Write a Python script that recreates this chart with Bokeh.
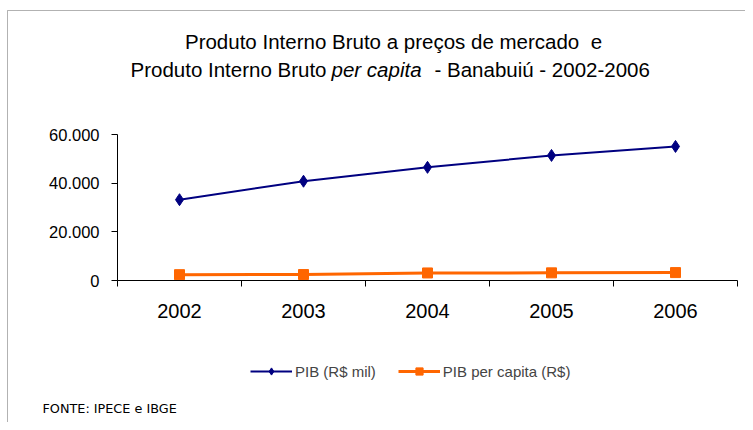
from bokeh.plotting import figure
from bokeh.models import Range1d, FixedTicker, Legend, LegendItem, Label, BoxAnnotation
from bokeh.embed import file_html
from bokeh.resources import INLINE

years = ["2002", "2003", "2004", "2005", "2006"]
pib = [33200, 40800, 46500, 51400, 55100]
pib_per_capita = [2400, 2450, 3100, 3150, 3250]
y_ticks = [0, 20000, 40000, 60000]
y_tick_labels = ["0", "20.000", "40.000", "60.000"]

title_line1 = "Produto Interno Bruto a preços de mercado\u00a0 e"
title_line2 = ["Produto Interno Bruto", "per capita", "- Banabuiú - 2002-2006"]
source_text = "FONTE: IPECE e IBGE"
series_names = ["PIB (R$ mil)", "PIB per capita (R$)"]

FONT = "Liberation Sans"
n = len(years)
xs = [i + 0.5 for i in range(n)]
y_max = y_ticks[-1]

# canvas geometry (pixels); the whole canvas is the plotting frame
W, H = 745, 422
AX_L, AX_R = 117, 737      # x of category boundaries 0 and n (canvas px)
AX_TOP, AX_BOT = 134, 280  # y of y_max and 0 (canvas px, from top)
px_x = (AX_R - AX_L) / n
px_y = (AX_BOT - AX_TOP) / y_max
x_range = Range1d(-AX_L / px_x, n + (W - AX_R) / px_x)
y_range = Range1d(-(H - AX_BOT) / px_y, y_max + AX_TOP / px_y)

p = figure(width=W, height=H, output_backend="svg", toolbar_location=None,
           x_range=x_range, y_range=y_range,
           min_border=0, min_border_left=0, min_border_right=0,
           min_border_top=0, min_border_bottom=0)
p.outline_line_color = None
p.grid.visible = False
p.background_fill_color = "white"
p.border_fill_color = "white"

# outer chart border (left and top edges visible)
p.add_layout(BoxAnnotation(left=7, right=W + 20, top=H - 10, bottom=-20,
                           left_units="screen", right_units="screen",
                           top_units="screen", bottom_units="screen",
                           fill_alpha=0, line_color="#000000", line_width=1))

# x axis: labels at category centers, ticks between categories
xa = p.xaxis[0]
xa.fixed_location = 0
xa.bounds = (0, n)
xa.ticker = FixedTicker(ticks=xs, minor_ticks=list(range(n + 1)))
xa.major_label_overrides = {x: y for x, y in zip(xs, years)}
xa.major_tick_out = 0
xa.major_tick_in = 0
xa.minor_tick_out = 6
xa.minor_tick_in = 0
xa.minor_tick_line_color = "#000000"
xa.axis_line_color = "#000000"
xa.major_label_text_font = FONT
xa.major_label_text_font_size = "20px"
xa.major_label_text_color = "#000000"
xa.major_label_standoff = 17

ya = p.yaxis[0]
ya.fixed_location = 0
ya.bounds = (0, y_max)
ya.ticker = FixedTicker(ticks=y_ticks)
ya.major_label_overrides = {t: l for t, l in zip(y_ticks, y_tick_labels)}
ya.major_tick_out = 6
ya.major_tick_in = 0
ya.minor_tick_line_color = None
ya.axis_line_color = "#000000"
ya.major_tick_line_color = "#000000"
ya.major_label_text_font = FONT
ya.major_label_text_font_size = "16.5px"
ya.major_label_text_color = "#000000"
ya.major_label_standoff = 12

l1 = p.line(xs, pib, line_color="#000080", line_width=2)
m1 = p.scatter(xs, pib, marker="diamond", size=12,
               fill_color="#000080", line_color="#000080")
l2 = p.line(xs, pib_per_capita, line_color="#FF6600", line_width=3)
m2 = p.scatter(xs, pib_per_capita, marker="square", size=10,
               fill_color="#FF6600", line_color="#FF6600")

legend = Legend(items=[LegendItem(label=series_names[0], renderers=[l1, m1]),
                       LegendItem(label=series_names[1], renderers=[l2, m2])],
                orientation="horizontal", location=(250, 42),
                border_line_color=None, background_fill_alpha=0,
                label_text_font=FONT, label_text_font_size="15px",
                glyph_width=42, glyph_height=18, label_standoff=3,
                spacing=22, padding=0, margin=0)
p.add_layout(legend, "center")

common = dict(x_units="screen", y_units="screen", text_font=FONT,
              text_color="#000000", text_baseline="alphabetic",
              text_font_size="20.5px")
p.add_layout(Label(x=393, y=381, text=title_line1, text_align="center", **common))
p.add_layout(Label(x=326, y=353, text=title_line2[0], text_align="right", **common))
p.add_layout(Label(x=331, y=353, text=title_line2[1], text_align="left",
                   text_font_style="italic", **common))
p.add_layout(Label(x=434, y=353, text=title_line2[2], text_align="left", **common))
p.add_layout(Label(x=42, y=14, text=source_text, text_align="left",
                   text_font_size="12.8px", x_units="screen", y_units="screen",
                   text_font="DejaVu Sans", text_color="#000000",
                   text_baseline="alphabetic"))

open("out.html", "w").write(file_html(p, INLINE))
